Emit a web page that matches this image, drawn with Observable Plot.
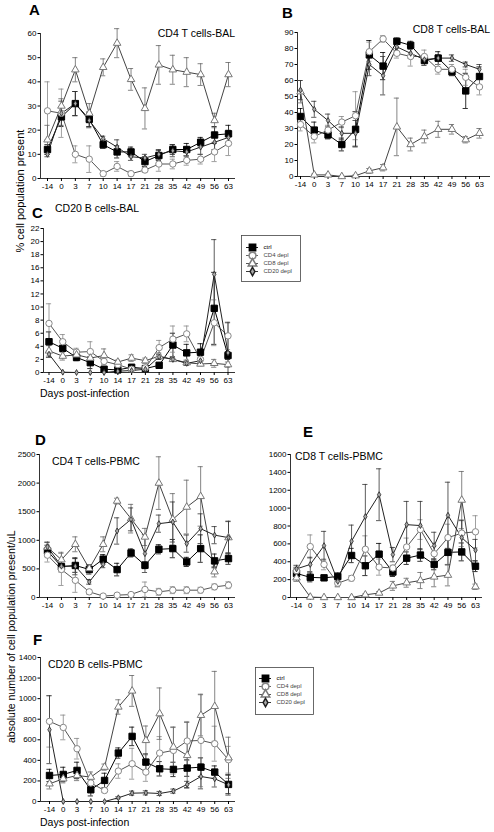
<!DOCTYPE html>
<html><head><meta charset="utf-8">
<script src="https://cdn.jsdelivr.net/npm/d3@7"></script>
<script src="https://cdn.jsdelivr.net/npm/@observablehq/plot@0.6"></script>
<style>
body{margin:0;background:#fff;}
#root{position:relative;width:494px;height:832px;overflow:hidden;font-family:"Liberation Sans",Arial,Helvetica,sans-serif;background:#fff;}
#root svg{position:absolute;left:0;top:0;}
.lbl{position:absolute;white-space:nowrap;color:#000;line-height:1;}
</style></head><body><div id="root"></div>
<script>
// ---------- data ----------
const days = [-14, 0, 3, 7, 10, 14, 17, 21, 28, 35, 42, 49, 56, 63];
const series = ["ctrl", "CD4 depl", "CD8 depl", "CD20 depl"];

// A: CD4 T cells-BAL (%)
const A_ctrl = [12, 25.5, 31, 24.5, 14, 11, 11, 7, 9.5, 12, 12, 15, 18, 18.5];
const A_ctrl_err = [2, 4, 5, 3, 1.5, 2.5, 2, 2, 2, 2, 2.5, 2, 3.5, 3.5];
const A_cd4 = [28, 27, 10, 8, 2, 5, 2, 3.5, 6, 6, 7.5, 8, 11, 14.5];
const A_cd4_err = [12, 10, 3.5, 5.5, 1, 2, 1, 1, 3, 2, 2, 2, 4, 5];
const A_cd8 = [16, 30, 45, 27, 46, 56, 41, 29, 47, 45, 44, 43, 24, 43];
const A_cd8_err = [6, 3, 5, 4, 3.5, 6, 4.5, 8.5, 8, 6, 6, 4.5, 3, 5];
const A_cd20 = [10, 27, 31, 24, 16.5, 13, 9, 8.5, 10, 11.5, 11, 13, 15, 17];
const A_cd20_err = [1, 5, 5, 3, 1, 3, 1.5, 1.5, 2, 2.5, 2, 3, 3, 3];

// B: CD8 T cells-BAL (%)
const B_ctrl = [37.5, 29, 26, 20, 29.5, 76, 69, 84.5, 82, 72.5, 74, 65.5, 53.5, 62.5];
const B_ctrl_err = [5, 5, 2.5, 4, 11, 9, 8.5, 2, 2.5, 3, 4, 2.5, 11, 6];
const B_cd4 = [32.5, 25, 29, 34, 38, 78, 86, 77, 75, 75, 67, 67, 62, 56];
const B_cd4_err = [4, 4, 3, 3.5, 15, 6, 2, 3, 6, 4, 3, 3, 5, 5];
const B_cd8 = [53, 1, 1, 0, 0.5, 3.5, 5.5, 31, 20, 25, 29.5, 29.5, 23, 27];
const B_cd8_err = [7, 0.5, 0.5, 0.3, 0.5, 1.5, 2, 18, 4, 4, 5, 3, 2, 3];
const B_cd20 = [54, 42, 35, 27, 27, 70, 63, 81, 77, 73, 74, 74, 70, 67];
const B_cd20_err = [6, 5, 4, 4, 8, 7, 12, 3, 3, 2, 2, 2, 1.5, 3];

// C: CD20 B cells-BAL (%)
const C_ctrl = [4.7, 3.7, 2.3, 1.5, 0.5, 0.4, 0.8, 0.6, 1.1, 4.2, 3.0, 3.1, 9.8, 2.6];
const C_ctrl_err = [1.5, 1.2, 0.5, 0.9, 0.3, 0.3, 0.4, 0.3, 0.3, 1.8, 1.3, 1.3, 5.5, 0.6];
const C_cd4 = [7.5, 4.7, 3.1, 3.2, 1.7, 1.2, 0.5, 0.7, 3.8, 5.1, 5.9, 2.0, 7.6, 5.6];
const C_cd4_err = [3, 1.1, 0.6, 1.5, 0.5, 0.4, 0.3, 0.3, 1.1, 2, 1.2, 0.5, 3.5, 2.1];
const C_cd8 = [3.3, 2.5, 2.7, 2.2, 2.6, 1.6, 2.2, 1.8, 2.5, 2.0, 1.5, 1.3, 1.4, 1.2];
const C_cd8_err = [0.8, 0.6, 0.5, 0.9, 1, 0.3, 0.5, 0.4, 0.5, 0.3, 0.4, 0.3, 0.6, 0.4];
const C_cd20 = [2.8, 0.05, 0, 0, 0, 0.2, 0.3, 0.5, 2.4, 2.0, 1.4, 1.8, 15, 3.0];
const C_cd20_err = [0.5, 0, 0, 0, 0, 0.1, 0.2, 0.2, 0.4, 0.3, 0.3, 0.4, 5.3, 4.6];

// D: CD4 T cells-PBMC (cells/uL)
const D_ctrl = [814, 540, 560, 490, 670, 488, 779, 564, 843, 855, 622, 855, 640, 680];
const D_ctrl_err = [100, 60, 120, 80, 80, 110, 70, 60, 80, 160, 80, 240, 120, 100];
const D_cd4 = [740, 490, 300, 99, 25, 41, 52, 140, 99, 128, 128, 128, 186, 215];
const D_cd4_err = [120, 280, 210, 40, 15, 20, 20, 130, 60, 60, 60, 50, 50, 60];
const D_cd8 = [880, 660, 930, 506, 930, 1686, 1378, 1058, 2000, 1366, 1581, 1767, 450, 1047];
const D_cd8_err = [90, 130, 130, 70, 130, 50, 250, 150, 460, 450, 470, 520, 90, 290];
const D_cd20 = [884, 547, 547, 273, 581, 1163, 1366, 767, 1291, 1320, 942, 1203, 1090, 1047];
const D_cd20_err = [80, 100, 150, 40, 60, 230, 200, 330, 150, 350, 150, 260, 150, 280];

// E: CD8 T cells-PBMC (cells/uL)
const E_ctrl = [270, 225, 220, 235, 470, 355, 485, 285, 440, 475, 370, 505, 510, 350];
const E_ctrl_err = [60, 50, 20, 40, 80, 110, 120, 50, 70, 70, 60, 140, 100, 60];
const E_cd4 = [300, 570, 370, 160, 215, 540, 340, 330, 565, 760, 490, 670, 720, 735];
const E_cd4_err = [40, 130, 60, 20, 30, 150, 90, 30, 100, 110, 80, 150, 150, 180];
const E_cd8 = [220, 5, 0, 0, 0, 30, 50, 130, 165, 190, 230, 250, 1090, 120];
const E_cd8_err = [40, 5, 0, 0, 0, 10, 15, 50, 50, 90, 110, 120, 320, 30];
const E_cd20 = [320, 370, 580, 180, 630, 905, 1150, 480, 815, 805, 580, 920, 670, 530];
const E_cd20_err = [40, 80, 160, 60, 180, 360, 290, 80, 260, 270, 150, 370, 190, 120];

// F: CD20 B cells-PBMC (cells/uL)
const F_ctrl = [253, 263, 302, 114, 205, 471, 633, 383, 318, 312, 325, 334, 286, 166];
const F_ctrl_err = [60, 70, 80, 60, 70, 50, 90, 80, 70, 70, 80, 90, 60, 90];
const F_cd4 = [779, 720, 513, 180, 107, 296, 367, 286, 471, 497, 588, 594, 562, 406];
const F_cd4_err = [250, 120, 100, 40, 20, 70, 150, 90, 160, 230, 190, 450, 170, 130];
const F_cd8 = [172, 221, 253, 237, 334, 919, 1075, 594, 854, 529, 448, 838, 925, 425];
const F_cd8_err = [50, 40, 50, 50, 30, 70, 150, 140, 250, 190, 320, 200, 340, 200];
const F_cd20 = [698, 0, 0, 0, 0, 36, 81, 84, 78, 101, 166, 243, 221, 162];
const F_cd20_err = [330, 0, 0, 0, 0, 10, 20, 20, 20, 20, 30, 120, 80, 100];

// ---------- styles & layout ----------
const sty = {
  "ctrl":      {symbol: "square",   r: 3.6, fill: "#000", stroke: "#000", sw: 1,   line: "#000", err: "#000"},
  "CD4 depl":  {symbol: "circle",   r: 3.2, fill: "#fff", stroke: "#888", sw: 1,   line: "#555", err: "#888"},
  "CD8 depl":  {symbol: "triangle", r: 2.8, fill: "#fff", stroke: "#777", sw: 1,   line: "#444", err: "#666"},
  "CD20 depl": {symbol: "diamond",  r: 1.8, fill: "#aaa", stroke: "#222", sw: 0.8, line: "#222", err: "#333"}
};
const FONT = "Liberation Sans, Arial, Helvetica, sans-serif";
const root = document.getElementById("root");

function panel(vals, errs, L) {
  const step = (L.p13 - L.p0) / 13;
  const xlo = (L.axisX - L.p0) / step, xhi = 13 + (L.endX - L.p13) / step;
  const cap = 2.6 / step;
  const marks = [
    Plot.ruleY([0], {stroke: "#000", strokeWidth: 0.8}),
    Plot.ruleX([xlo], {y1: 0, y2: L.ymax, stroke: "#000", strokeWidth: 0.8})
  ];
  const allRows = [];
  series.forEach((s, k) => {
    const st = sty[s];
    const rows = days.map((d, i) => ({i, v: vals[k][i], e: errs[k][i]}));
    allRows.push(rows);
    const eb = rows.filter(r => r.e > 0);
    marks.push(Plot.ruleX(eb, {x: "i", y1: r => Math.max(0, r.v - r.e), y2: r => r.v + r.e, stroke: st.err, strokeWidth: 0.8}));
    marks.push(Plot.ruleY(eb, {x1: r => r.i - cap, x2: r => r.i + cap, y: r => r.v + r.e, stroke: st.err, strokeWidth: 0.8}));
    marks.push(Plot.ruleY(eb.filter(r => r.v - r.e > 0), {x1: r => r.i - cap, x2: r => r.i + cap, y: r => r.v - r.e, stroke: st.err, strokeWidth: 0.8}));
    marks.push(Plot.line(rows, {x: "i", y: "v", stroke: st.line, strokeWidth: 1}));
  });
  series.forEach((s, k) => {
    const st = sty[s];
    marks.push(Plot.dot(allRows[k], {x: "i", y: "v", symbol: st.symbol, r: st.r, fill: st.fill, stroke: st.stroke, strokeWidth: st.sw}));
  });
  const svg = Plot.plot({
    width: 494, height: 832,
    marginLeft: L.axisX, marginRight: 494 - L.endX, marginTop: L.yTop, marginBottom: 832 - L.y0,
    x: {domain: [xlo, xhi], ticks: d3.range(14), tickFormat: i => String(days[i]), tickSize: 3, tickPadding: 1.5, label: null},
    y: {domain: [0, L.ymax], ticks: d3.range(0, L.ymax + 1e-9, L.step), tickFormat: d => String(d), tickSize: 2.5, tickPadding: 1.5, label: null},
    style: {background: "none", fontFamily: FONT, fontSize: "8px", color: "#000", overflow: "visible"},
    marks
  });
  root.appendChild(svg);
}

function legend(B) {
  const svg = Plot.plot({
    width: 494, height: 832,
    marginLeft: B.x1, marginRight: 494 - B.x2, marginTop: B.y1, marginBottom: 832 - B.y2,
    x: {domain: [0, 1], range: [B.lx1, B.lx2], axis: null},
    y: {type: "point", domain: series, range: [B.ry1, B.ry2], axis: null},
    style: {background: "none", fontFamily: FONT, fontSize: "6px", overflow: "visible"},
    marks: [
      Plot.frame({stroke: "#444", strokeWidth: 0.8}),
      Plot.ruleY(series, {x1: 0, x2: 1, y: d => d, stroke: d => sty[d].line, strokeWidth: 0.9}),
      Plot.dot(series, {x: 0.5, y: d => d, symbol: d => sty[d].symbol, r: d => sty[d].r * 0.75, fill: d => sty[d].fill, stroke: d => sty[d].stroke}),
      Plot.text(series, {x: 1, y: d => d, text: d => d, dx: 5, textAnchor: "start", fill: d => d === "ctrl" ? "#000" : "#444"})
    ]
  });
  root.appendChild(svg);
}

function label(text, x, base, size, o = {}) {
  const el = document.createElement("div");
  el.className = "lbl";
  el.textContent = text;
  el.style.fontSize = size + "px";
  el.style.fontWeight = o.bold ? "bold" : "normal";
  el.style.top = (base - 0.847 * size) + "px";
  if (o.right) { el.style.right = (494 - x) + "px"; } else { el.style.left = x + "px"; }
  root.appendChild(el);
  return el;
}
function vlabel(text, xBase, yCenter, size) {
  const el = document.createElement("div");
  el.className = "lbl";
  el.textContent = text;
  el.style.fontSize = size + "px";
  el.style.left = "0px"; el.style.top = "0px";
  root.appendChild(el);
  const w = el.offsetWidth;
  el.style.transformOrigin = "0 0";
  el.style.transform = `translate(${xBase - 0.847 * size}px, ${yCenter + w / 2}px) rotate(-90deg)`;
}

panel([A_ctrl, A_cd4, A_cd8, A_cd20], [A_ctrl_err, A_cd4_err, A_cd8_err, A_cd20_err],
  {axisX: 40, endX: 235, p0: 47, p13: 228, yTop: 33, y0: 178, ymax: 60, step: 10});
panel([B_ctrl, B_cd4, B_cd8, B_cd20], [B_ctrl_err, B_cd4_err, B_cd8_err, B_cd20_err],
  {axisX: 297, endX: 490, p0: 300, p13: 479, yTop: 32, y0: 176, ymax: 90, step: 10});
panel([C_ctrl, C_cd4, C_cd8, C_cd20], [C_ctrl_err, C_cd4_err, C_cd8_err, C_cd20_err],
  {axisX: 43, endX: 235, p0: 48.5, p13: 227.5, yTop: 228, y0: 372, ymax: 22, step: 2});
panel([D_ctrl, D_cd4, D_cd8, D_cd20], [D_ctrl_err, D_cd4_err, D_cd8_err, D_cd20_err],
  {axisX: 39, endX: 235, p0: 47, p13: 228, yTop: 454, y0: 597, ymax: 2500, step: 500});
panel([E_ctrl, E_cd4, E_cd8, E_cd20], [E_ctrl_err, E_cd4_err, E_cd8_err, E_cd20_err],
  {axisX: 290, endX: 482, p0: 296, p13: 475, yTop: 454, y0: 597, ymax: 1600, step: 200});
panel([F_ctrl, F_cd4, F_cd8, F_cd20], [F_ctrl_err, F_cd4_err, F_cd8_err, F_cd20_err],
  {axisX: 40, endX: 235, p0: 49, p13: 228, yTop: 657, y0: 801, ymax: 1400, step: 200});

legend({x1: 241, x2: 300, y1: 235, y2: 281, lx1: 246, lx2: 258, ry1: 242, ry2: 275});
legend({x1: 255, x2: 313, y1: 667, y2: 714, lx1: 259, lx2: 271, ry1: 672, ry2: 707});

// panel letters
label("A", 29, 15, 15, {bold: true});
label("B", 282, 18, 15, {bold: true});
label("C", 32, 218, 15, {bold: true});
label("D", 35, 445, 15, {bold: true});
label("E", 303, 437, 15, {bold: true});
label("F", 33, 645, 15, {bold: true});
// panel titles
label("CD4 T cells-BAL", 235, 36.5, 10.5, {right: true});
label("CD8 T cells-BAL", 490, 33, 10.5, {right: true});
label("CD20 B cells-BAL", 55, 212, 10.5);
label("CD4 T cells-PBMC", 52, 465, 10.5);
label("CD8 T cells-PBMC", 295, 460, 10.5);
label("CD20 B cells-PBMC", 48, 668, 10.5);
// axis titles
label("Days post-infection", 40, 397, 10.5);
label("Days post-infection", 40, 825.5, 10.5);
vlabel("% cell population present", 24, 191, 11);
vlabel("absolute number of cell population present/uL", 15, 637, 10.5);
</script></body></html>
